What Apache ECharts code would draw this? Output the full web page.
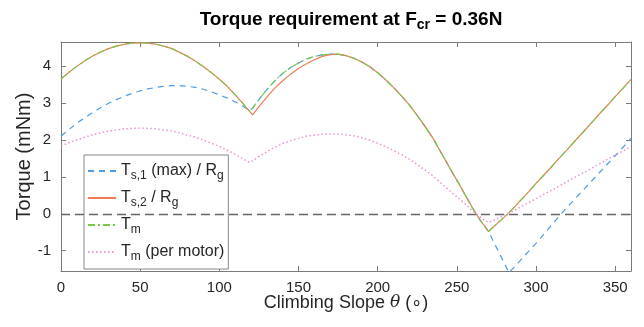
<!DOCTYPE html>
<html>
<head>
<meta charset="utf-8">
<script src="https://cdn.jsdelivr.net/npm/echarts@6/dist/echarts.min.js"></script>
<style>
  html, body { margin: 0; padding: 0; background: #fff; }
  #chart { width: 644px; height: 327px; }
</style>
</head>
<body>
<div id="chart"></div>
<script>
// climbing slope (deg)
const theta = [0, 5, 10, 15, 20, 25, 30, 35, 40, 45, 50, 55, 60, 65, 70, 75, 80, 85, 90, 95, 100, 105, 110, 115,
  117, 119, 121,
  125, 130, 135, 140, 145, 150, 155, 160, 165, 170, 175, 180, 185, 190, 195, 200, 205, 210, 215, 220, 225, 230,
  235, 240, 245, 250, 255, 260, 265, 270, 275, 280,
  283,
  285, 290, 295, 300, 305, 310, 315, 320, 325, 330, 335, 340, 345, 350, 355, 360]

// Ts,1 (max) / Rg
const ts1 = [2.1, 2.28, 2.45, 2.6, 2.74, 2.87, 2.99, 3.09, 3.18, 3.26, 3.33, 3.38, 3.42, 3.45, 3.47, 3.47, 3.45, 3.42, 3.37, 3.3, 3.22, 3.13, 3.03, 2.91,
  2.85, 2.78, 2.86,
  3.09, 3.36, 3.60, 3.80, 3.96, 4.08, 4.19, 4.26, 4.30, 4.32, 4.32, 4.28, 4.21, 4.11, 3.98, 3.82, 3.63, 3.42, 3.19, 2.95, 2.66, 2.36,
  2.04, 1.66, 1.28, 0.91, 0.53, 0.15, -0.19, -0.48, -0.91, -1.34,
  -1.6,
  -1.5, -1.27, -1.03, -0.8, -0.55, -0.3, -0.05, 0.19, 0.42, 0.65, 0.88, 1.11, 1.34, 1.57, 1.8, 2.04]

// Ts,2 / Rg
const ts2 = [3.65, 3.83, 3.99, 4.14, 4.27, 4.38, 4.47, 4.54, 4.59, 4.62, 4.63, 4.62, 4.59, 4.54, 4.47, 4.37, 4.26, 4.13, 3.98, 3.82, 3.64, 3.45, 3.22, 2.98,
  2.87, 2.78, 2.68,
  2.9, 3.16, 3.4, 3.6, 3.78, 3.93, 4.06, 4.17, 4.26, 4.31, 4.32, 4.28, 4.21, 4.11, 3.98, 3.82, 3.63, 3.42, 3.19, 2.95, 2.66, 2.36,
  2.04, 1.66, 1.28, 0.91, 0.53, 0.15, -0.19, -0.48, -0.28, -0.09,
  0.03,
  0.12, 0.35, 0.58, 0.82, 1.05, 1.28, 1.52, 1.75, 1.99, 2.22, 2.46, 2.70, 2.93, 3.17, 3.40, 3.64]

// Tm
const tm = [3.65, 3.83, 3.99, 4.14, 4.27, 4.38, 4.47, 4.54, 4.59, 4.62, 4.63, 4.62, 4.59, 4.54, 4.47, 4.37, 4.26, 4.13, 3.98, 3.82, 3.64, 3.45, 3.22, 2.98,
  2.87, 2.78, 2.86,
  3.09, 3.36, 3.60, 3.80, 3.96, 4.08, 4.19, 4.26, 4.30, 4.32, 4.32, 4.28, 4.21, 4.11, 3.98, 3.82, 3.63, 3.42, 3.19, 2.95, 2.66, 2.36,
  2.04, 1.66, 1.28, 0.91, 0.53, 0.15, -0.19, -0.48, -0.28, -0.09,
  0.03,
  0.12, 0.35, 0.58, 0.82, 1.05, 1.28, 1.52, 1.75, 1.99, 2.22, 2.46, 2.70, 2.93, 3.17, 3.40, 3.64]

// Tm (per motor)
const tmMotor = [1.83, 1.92, 2.0, 2.07, 2.14, 2.19, 2.24, 2.27, 2.3, 2.31, 2.32, 2.31, 2.3, 2.27, 2.24, 2.19, 2.13, 2.07, 1.99, 1.91, 1.82, 1.72, 1.61, 1.49,
  1.44, 1.39, 1.43,
  1.55, 1.68, 1.8, 1.9, 1.98, 2.04, 2.1, 2.13, 2.15, 2.16, 2.16, 2.14, 2.11, 2.06, 1.99, 1.91, 1.82, 1.71, 1.6, 1.48, 1.33, 1.18,
  1.02, 0.83, 0.64, 0.46, 0.27, 0.08, -0.1, -0.24, -0.14, -0.05,
  0.02,
  0.06, 0.18, 0.29, 0.41, 0.53, 0.64, 0.76, 0.88, 1.0, 1.11, 1.23, 1.35, 1.47, 1.59, 1.7, 1.82]

const xTicks = [0, 50, 100, 150, 200, 250, 300, 350]
const yTicks = [-1, 0, 1, 2, 3, 4]

const FONT = '"Liberation Sans", Arial, Helvetica, sans-serif'
const AXIS_COLOR = '#7a7a7a'
const TEXT_COLOR = '#262626'

function pairs(vals) {
  return theta.map((t, i) => [t, vals[i]])
}

const legendLabels = {
  ts1: '{m|T}{s|s,1}{m| (max) / R}{s|g}',
  ts2: '{m|T}{s|s,2}{m| / R}{s|g}',
  tm: '{m|T}{s|m}',
  tmMotor: '{m|T}{s|m}{m| (per motor)}'
}

const chart = echarts.init(document.getElementById('chart'))

// shared look of the frame axes
const frameLine = { show: true, onZero: false, lineStyle: { color: AXIS_COLOR, width: 1 } }
const frameTick = { show: true, inside: true, length: 5, lineStyle: { color: AXIS_COLOR } }

const option = {
  animation: false,
  backgroundColor: '#fff',
  title: {
    text: '{b|Torque requirement at F}{s|cr}{b| = 0.36N}',
    left: 346,
    textAlign: 'center',
    top: 5,
    textStyle: {
      rich: {
        b: { fontFamily: FONT, fontSize: 19, fontWeight: 'bold', color: '#000', lineHeight: 20 },
        s: { fontFamily: FONT, fontSize: 14, fontWeight: 'bold', color: '#000', lineHeight: 14, padding: [11, 0, 0, 0] }
      }
    }
  },
  legend: {
    orient: 'vertical',
    left: 84,
    top: 155,
    width: 143,
    padding: [5, 4, 6, 3],
    itemGap: 5,
    itemWidth: 28,
    itemHeight: 12,
    backgroundColor: '#fff',
    borderColor: '#888',
    borderWidth: 1,
    borderRadius: 0,
    itemStyle: { opacity: 0 },
    data: ['ts1', 'ts2', 'tm', 'tmMotor'],
    formatter: (name) => legendLabels[name],
    textStyle: {
      rich: {
        m: { fontFamily: FONT, fontSize: 16, color: TEXT_COLOR, lineHeight: 16 },
        s: { fontFamily: FONT, fontSize: 12, color: TEXT_COLOR, lineHeight: 12, padding: [10, 0, 0, 0] }
      }
    }
  },
  grid: {
    left: 61,
    right: 13,
    top: 42,
    bottom: 56
  },
  xAxis: [
    {
      type: 'value',
      min: 0,
      max: 360,
      interval: 50,
      name: 'Climbing Slope {i|θ} (∘)',
      nameLocation: 'middle',
      nameMoveOverlap: false,
      nameGap: 23,
      nameTextStyle: {
        fontFamily: FONT,
        fontSize: 18,
        color: TEXT_COLOR,
        verticalAlign: 'top',
        rich: {
          i: { fontFamily: '"DejaVu Serif", serif', fontStyle: 'italic', fontSize: 17, color: TEXT_COLOR }
        }
      },
      axisLine: frameLine,
      axisTick: frameTick,
      axisLabel: {
        margin: 9,
        fontFamily: FONT,
        fontSize: 15,
        color: TEXT_COLOR,
        formatter: (v) => (xTicks.includes(v) ? String(v) : '')
      },
      splitLine: { show: false }
    },
    {
      type: 'value',
      position: 'top',
      min: 0,
      max: 360,
      interval: 50,
      axisLine: frameLine,
      axisTick: frameTick,
      axisLabel: { show: false },
      splitLine: { show: false }
    }
  ],
  yAxis: [
    {
      type: 'value',
      min: -1.55,
      max: 4.65,
      splitNumber: 6,
      name: 'Torque (mNm)',
      nameLocation: 'middle',
      nameMoveOverlap: false,
      nameGap: 27,
      nameTextStyle: { fontFamily: FONT, fontSize: 20, color: TEXT_COLOR },
      axisLine: frameLine,
      axisTick: frameTick,
      axisLabel: {
        margin: 10,
        fontFamily: FONT,
        fontSize: 15,
        color: TEXT_COLOR,
        formatter: (v) => (yTicks.includes(v) ? String(v) : '')
      },
      splitLine: { show: false }
    },
    {
      type: 'value',
      position: 'right',
      min: -1.55,
      max: 4.65,
      splitNumber: 6,
      axisLine: frameLine,
      axisTick: frameTick,
      axisLabel: { show: false },
      splitLine: { show: false }
    }
  ],
  series: [
    {
      name: 'ts1',
      type: 'line',
      showSymbol: false,
      symbol: 'none',
      data: pairs(ts1),
      lineStyle: { color: '#4d9de0', width: 1.2, type: [6, 5] },
      itemStyle: { color: '#4d9de0' },
      z: 2
    },
    {
      name: 'ts2',
      type: 'line',
      showSymbol: false,
      symbol: 'none',
      data: pairs(ts2),
      lineStyle: { color: '#f07b55', width: 1.2 },
      itemStyle: { color: '#f07b55' },
      z: 3
    },
    {
      name: 'tm',
      type: 'line',
      showSymbol: false,
      symbol: 'none',
      data: pairs(tm),
      lineStyle: { color: '#77c94c', width: 1.2, type: [7, 3, 2, 3] },
      itemStyle: { color: '#77c94c' },
      z: 4
    },
    {
      name: 'tmMotor',
      type: 'line',
      xAxisIndex: 1,
      yAxisIndex: 1,
      showSymbol: false,
      symbol: 'none',
      data: pairs(tmMotor),
      lineStyle: { color: '#ec92d6', width: 1.5, type: [1.5, 2.5] },
      itemStyle: { color: '#ec92d6' },
      z: 5,
      markLine: {
        silent: true,
        symbol: 'none',
        label: { show: false },
        lineStyle: { color: '#666', width: 1.3, type: [9, 5] },
        data: [{ yAxis: 0 }]
      }
    }
  ]
}

chart.setOption(option)
</script>
</body>
</html>
